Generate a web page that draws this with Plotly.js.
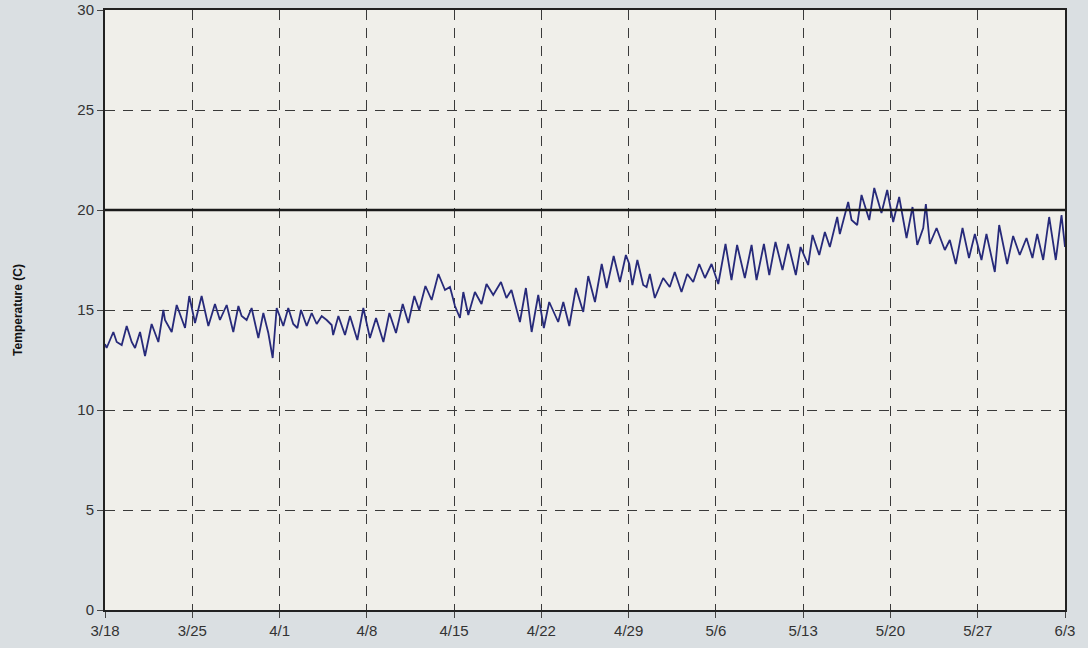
<!DOCTYPE html>
<html>
<head>
<meta charset="utf-8">
<script src="https://cdn.plot.ly/plotly-3.0.1.min.js"></script>
<style>
html,body{margin:0;padding:0;background:#dadfe2;}
#chart{width:1088px;height:648px;}
</style>
</head>
<body>
<div id="chart"></div>
<script>
// Day offsets from 3/18
const dayOffset = [0,0.13,0.67,0.94,1.34,1.74,2.14,2.41,2.81,3.21,3.74,4.28,4.68,4.81,5.35,5.75,6.42,6.76,7.22,7.75,8.29,8.82,9.22,9.76,10.29,10.7,10.96,11.36,11.76,12.3,12.7,13.1,13.45,13.77,14.3,14.7,15.1,15.43,15.72,16.18,16.58,16.98,17.38,17.78,18.18,18.3,18.72,19.25,19.65,20.24,20.72,21.25,21.74,22.33,22.81,23.34,23.88,24.33,24.81,25.2,25.7,26.2,26.74,27.27,27.67,28.07,28.47,28.74,29.14,29.67,30.2,30.6,31.14,31.76,32.2,32.6,33.28,33.76,34.22,34.75,35.2,35.63,36.35,36.76,37.24,37.77,38.36,38.76,39.3,39.84,40.24,40.8,41.3,41.78,42.05,42.3,42.7,43.17,43.44,43.7,44.1,44.77,45.3,45.7,46.24,46.7,47.18,47.66,48.12,48.65,49.19,49.77,50.25,50.7,51.32,51.86,52.26,52.85,53.28,53.78,54.34,54.8,55.41,55.79,56.4,56.75,57.29,57.74,58.14,58.73,58.94,59.61,59.88,60.33,60.68,61.3,61.7,62.28,62.74,63.22,63.7,64.29,64.77,65.15,65.63,65.84,66.16,66.7,67.36,67.76,68.24,68.78,69.3,69.77,70.3,70.7,71.37,71.72,72.36,72.84,73.37,73.91,74.39,74.77,75.25,75.73,76.26,76.72,77.0];
const temperature = [13.3,13.1,13.9,13.4,13.25,14.2,13.4,13.1,13.9,12.7,14.3,13.4,15.0,14.5,13.9,15.25,14.1,15.7,14.35,15.7,14.2,15.3,14.5,15.25,13.9,15.2,14.7,14.5,15.1,13.6,14.85,13.85,12.6,15.1,14.2,15.1,14.3,14.1,15.0,14.2,14.85,14.3,14.7,14.5,14.25,13.75,14.7,13.75,14.7,13.5,15.1,13.6,14.6,13.4,14.85,13.85,15.3,14.35,15.7,15.0,16.2,15.5,16.8,16.0,16.15,15.2,14.6,15.9,14.75,15.9,15.3,16.3,15.75,16.4,15.6,16.0,14.4,16.1,13.9,15.75,14.1,15.4,14.4,15.4,14.2,16.1,14.9,16.7,15.4,17.3,16.1,17.7,16.4,17.75,17.3,16.25,17.5,16.25,16.15,16.8,15.6,16.6,16.15,16.9,15.9,16.8,16.4,17.3,16.6,17.3,16.3,18.3,16.5,18.25,16.6,18.25,16.5,18.3,16.75,18.4,17.0,18.3,16.75,18.15,17.25,18.75,17.75,18.9,18.15,19.65,18.8,20.4,19.5,19.25,20.75,19.5,21.1,19.85,21.0,19.4,20.65,18.6,20.15,18.25,19.1,20.3,18.3,19.1,18.0,18.5,17.3,19.1,17.6,18.8,17.5,18.8,16.9,19.25,17.3,18.7,17.75,18.6,17.6,18.8,17.5,19.65,17.5,19.75,18.15];

const startDate = '2008-03-18';
const tickLabels = ['3/18','3/25','4/1','4/8','4/15','4/22','4/29','5/6','5/13','5/20','5/27','6/3'];
const tickDays = [0,7,14,21,28,35,42,49,56,63,70,77];
const yTicks = [0,5,10,15,20,25,30];
const threshold = 20;

const base = Date.UTC(2008, 2, 18);
function toDate(d){
  return new Date(base + d*86400000).toISOString().replace('T',' ').replace('Z','').slice(0,19);
}
const xDates = dayOffset.map(toDate);
const tickDates = tickDays.map(toDate);

const trace = {
  x: xDates, y: temperature, type: 'scatter', mode: 'lines',
  line: {color: '#272a7a', width: 1.8},
  hoverinfo: 'x+y'
};

const tickFont = {family: 'Liberation Sans, Arial, sans-serif', size: 15, color: '#333'};

const layout = {
  width: 1088, height: 648,
  paper_bgcolor: '#dadfe2',
  plot_bgcolor: '#f0efea',
  margin: {l: 105, r: 23, t: 10, b: 38},
  showlegend: false,
  xaxis: {
    type: 'date',
    range: [tickDates[0], tickDates[tickDates.length-1]],
    tickmode: 'array', tickvals: tickDates, ticktext: tickLabels,
    showgrid: true, gridcolor: '#3a3a3a', gridwidth: 1, griddash: '10px,8px',
    showline: true, linecolor: '#222', linewidth: 2, mirror: true,
    ticks: 'outside', ticklen: 6, tickcolor: '#444', tickwidth: 1,
    tickfont: tickFont, zeroline: false
  },
  yaxis: {
    range: [0, 30],
    tickmode: 'array', tickvals: yTicks, ticktext: yTicks.map(String),
    showgrid: true, gridcolor: '#3a3a3a', gridwidth: 1, griddash: '10px,8px',
    showline: true, linecolor: '#222', linewidth: 2, mirror: true,
    ticks: 'outside', ticklen: 6, tickcolor: '#444', tickwidth: 1,
    tickfont: tickFont, zeroline: false,
    title: {text: 'Temperature (C)', font: {family: 'Liberation Sans, Arial, sans-serif', size: 12, color: '#111', weight: 'bold'}, standoff: 52}
  },
  shapes: [{
    type: 'line', xref: 'paper', x0: 0, x1: 1, yref: 'y', y0: threshold, y1: threshold,
    line: {color: '#1a1a1a', width: 2.5}, layer: 'above'
  }]
};

Plotly.newPlot('chart', [trace], layout, {displayModeBar: false, staticPlot: true});
</script>
</body>
</html>
